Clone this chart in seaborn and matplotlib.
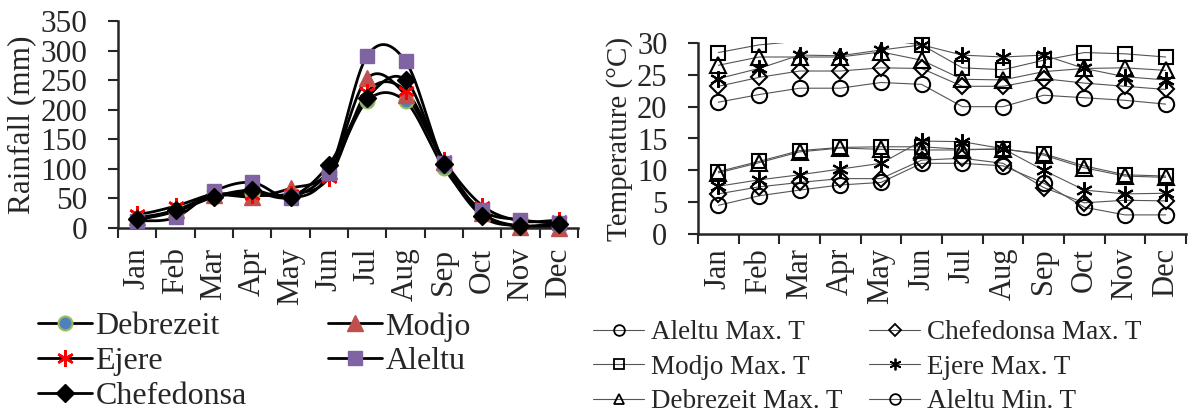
import numpy as np
import pandas as pd
import matplotlib
matplotlib.use("Agg")
import matplotlib.pyplot as plt
from matplotlib.lines import Line2D
import seaborn as sns

months = ['Jan', 'Feb', 'Mar', 'Apr', 'May', 'Jun', 'Jul', 'Aug', 'Sep', 'Oct', 'Nov', 'Dec']

# Rainfall (mm)
rain_debrezeit = [15, 28, 52, 60, 52, 95, 215, 214, 102, 25, 3, 5]
rain_modjo = [18, 30, 55, 53, 67, 97, 253, 225, 112, 25, 2, 0]
rain_ejere = [23, 37, 57, 55, 58, 85, 230, 232, 115, 38, 12, 13]
rain_aleltu = [12, 18, 62, 77, 51, 93, 291, 282, 110, 30, 14, 8]
rain_chefedonsa = [15, 30, 53, 64, 53, 107, 220, 250, 108, 20, 4, 7]

# Temperature (°C)
aleltu_max = [20.7, 21.9, 22.9, 22.9, 23.8, 23.5, 20.0, 20.0, 21.8, 21.4, 21.0, 20.4]
chef_max = [23.2, 24.6, 25.6, 25.6, 26.1, 26.0, 23.2, 23.2, 24.4, 23.7, 23.2, 22.7]
modjo_max = [28.5, 29.7, 30.3, 30.5, 30.6, 29.7, 26.1, 25.8, 27.3, 28.5, 28.3, 27.8]
ejere_max = [24.4, 26.0, 28.1, 28.0, 28.9, 29.7, 28.1, 27.8, 28.1, 26.0, 24.7, 24.2]
debre_max = [26.5, 27.8, 27.8, 27.8, 28.6, 27.3, 24.3, 24.2, 25.5, 26.0, 26.1, 25.7]
aleltu_min = [4.5, 6.0, 6.9, 7.7, 8.1, 11.1, 11.1, 10.7, 8.0, 4.2, 3.0, 3.0]
chef_min = [6.3, 7.4, 8.1, 8.7, 8.7, 11.6, 11.9, 11.1, 7.3, 4.9, 5.3, 5.2]
ejere_min = [7.5, 8.5, 9.3, 10.2, 11.1, 14.6, 14.5, 13.4, 10.0, 6.9, 6.3, 6.4]
modjo_min = [9.8, 11.4, 13.1, 13.6, 13.7, 13.7, 13.3, 13.3, 12.6, 10.7, 9.3, 9.1]
debre_min = [9.6, 11.2, 12.9, 13.5, 13.3, 13.2, 13.2, 13.4, 12.4, 10.4, 9.1, 8.9]

sns.set_style("ticks")
plt.rcParams['font.family'] = ['Liberation Serif', 'DejaVu Serif']

W, H = 1192, 419
fig = plt.figure(figsize=(W / 100, H / 100), dpi=100)


def px_axes(x0, y0, x1, y1):
    return fig.add_axes([x0 / W, 1 - y1 / H, (x1 - x0) / W, (y1 - y0) / H])


def smooth(y, n=20):
    """Catmull-Rom rendering of a series (Excel-like smoothed line)."""
    y = np.asarray(y, float)
    p = np.concatenate([[y[0]], y, [y[-1]]])
    xs, ys = [], []
    for i in range(len(y) - 1):
        p0, p1, p2, p3 = p[i], p[i + 1], p[i + 2], p[i + 3]
        t = np.linspace(0, 1, n, endpoint=False)
        m1 = (p2 - p0) / 2
        m2 = (p3 - p1) / 2
        h00 = 2 * t**3 - 3 * t**2 + 1
        h10 = t**3 - 2 * t**2 + t
        h01 = -2 * t**3 + 3 * t**2
        h11 = t**3 - t**2
        xs.append(i + t)
        ys.append(h00 * p1 + h10 * m1 + h01 * p2 + h11 * m2)
    xs.append([len(y) - 1])
    ys.append([y[-1]])
    return np.concatenate(xs), np.concatenate(ys)


def style_axes(ax, ymax, ystep, fs, xpad):
    ax.set_xlim(-0.5, 11.5)
    ax.set_ylim(0, ymax)
    ax.set_yticks(np.arange(0, ymax + 1, ystep))
    ax.set_xticks(np.arange(-0.5, 12, 1))
    ax.set_xticklabels([])
    ax.set_xticks(np.arange(12), minor=True)
    ax.set_xticklabels(months, minor=True, rotation=90, fontsize=fs)
    ax.tick_params(axis='x', which='minor', length=0, pad=xpad)
    ax.tick_params(axis='x', which='major', length=7, width=1.5, direction='out')
    ax.tick_params(axis='y', length=7, width=1.5, labelsize=fs, pad=15)
    for s in ['top', 'right']:
        ax.spines[s].set_visible(False)
    for s in ['left', 'bottom']:
        ax.spines[s].set_linewidth(1.8)
    ax.grid(False)


# ---------------- Rainfall ----------------
ax1 = px_axes(118, 21, 578, 228)
x = np.arange(12)
rain_series = [
    ('Debrezeit', rain_debrezeit, dict(marker='o', ms=10, mfc='#4F81BD', mec='#9BBB59', mew=1.5)),
    ('Modjo', rain_modjo, dict(marker='^', ms=12, mfc='#C0504D', mec='#C0504D', mew=1)),
    ('Ejere', rain_ejere, dict(marker=(6, 2, 0), ms=12, mfc='#FF0000', mec='#FF0000', mew=1.8)),
    ('Aleltu', rain_aleltu, dict(marker='s', ms=10, mfc='#8064A2', mec='#8064A2', mew=1)),
    ('Chefedonsa', rain_chefedonsa, dict(marker='D', ms=9, mfc='black', mec='black', mew=1)),
]
handles1 = {}
for name, vals, mk in rain_series:
    xs, ys = smooth(vals)
    sns.lineplot(x=xs, y=ys, ax=ax1, color='black', lw=2.0, sort=False, zorder=2)
for name, vals, mk in rain_series:
    ax1.plot(x, vals, ls='none', zorder=3, clip_on=False, **mk)
    handles1[name] = Line2D([], [], color='black', lw=2.0, **mk)
style_axes(ax1, 350, 50, 22.5, 14)
ax1.set_xlabel('')
ax1.set_ylabel('Rainfall (mm)', fontsize=22.5, labelpad=3)

# ---------------- Temperature ----------------
ax2 = px_axes(698, 43, 1186, 234)
temp_series = [
    ('Aleltu Max. T', aleltu_max, 'o'),
    ('Chefedonsa Max. T', chef_max, 'D'),
    ('Modjo Max. T', modjo_max, 's'),
    ('Ejere Max. T', ejere_max, (6, 2, 0)),
    ('Debrezeit Max. T', debre_max, '^'),
    ('Aleltu Min. T', aleltu_min, 'o'),
    ('Chefedonsa Min. T', chef_min, 'D'),
    ('Modjo Min. T', modjo_min, 's'),
    ('Ejere Min. T', ejere_min, (6, 2, 0)),
    ('Debrezeit Min. T', debre_min, '^'),
]
msize = {'o': 11, 'D': 8.5, 's': 10, '^': 11}
handles2 = {}
for name, vals, mk in temp_series:
    ms = msize.get(mk, 12) if isinstance(mk, str) else 12
    df = pd.DataFrame({'m': x, 'v': vals})
    sns.lineplot(data=df, x='m', y='v', ax=ax2, color='#555555', lw=0.8, sort=False, zorder=2)
    shown = df[df['v'] <= 30]   # markers beyond the axis maximum are not drawn
    ax2.plot(shown['m'], shown['v'], ls='none', marker=mk, ms=ms, mfc='none',
             mec='black', mew=1.5, zorder=3, clip_on=False)
    handles2[name] = Line2D([], [], color='#555555', lw=0.8, marker=mk, ms=ms * 0.7,
                            mfc='none', mec='black', mew=1.3)
style_axes(ax2, 30, 5, 22, 10)
ax2.set_xlabel('')
ax2.set_ylabel('Temperature (°C)', fontsize=21, labelpad=3)

# ---------------- Legends ----------------
def col_legend(handles, labels, x0, ytop, fs, hl, pad, spacing):
    return fig.legend(handles, labels, loc='upper left',
                      bbox_to_anchor=(x0 / W, 1 - ytop / H), frameon=False,
                      fontsize=fs, handlelength=hl, handletextpad=pad,
                      labelspacing=spacing, borderpad=0, borderaxespad=0)

col_legend([handles1['Debrezeit'], handles1['Ejere'], handles1['Chefedonsa']],
           ['Debrezeit', 'Ejere', 'Chefedonsa'], 38, 312, 23, 1.7, 0.1, 0.17)
col_legend([handles1['Modjo'], handles1['Aleltu']],
           ['Modjo', 'Aleltu'], 328, 312, 23, 1.7, 0.1, 0.17)
col_legend([handles2['Aleltu Max. T'], handles2['Modjo Max. T'], handles2['Debrezeit Max. T']],
           ['Aleltu Max. T', 'Modjo Max. T', 'Debrezeit Max. T'], 593, 320, 19.5, 1.9, 0.25, 0.36)
col_legend([handles2['Chefedonsa Max. T'], handles2['Ejere Max. T'], handles2['Aleltu Min. T']],
           ['Chefedonsa Max. T', 'Ejere Max. T', 'Aleltu Min. T'], 869, 320, 19.5, 1.9, 0.25, 0.36)

fig.savefig('out.png', dpi=100)
